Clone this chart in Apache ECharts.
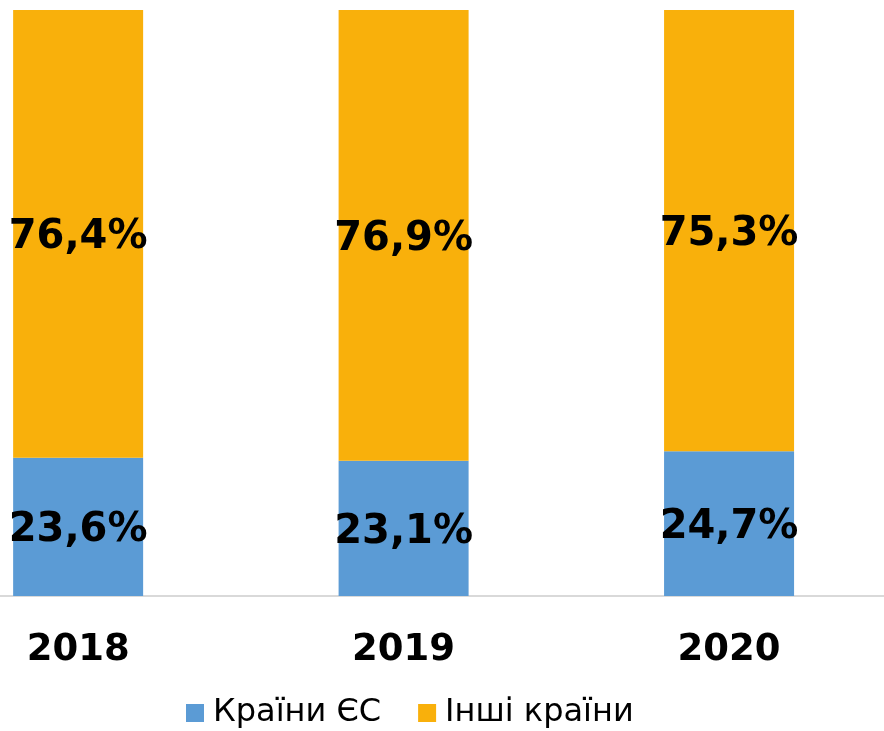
<!DOCTYPE html>
<html><head><meta charset="utf-8">
<script src="https://cdn.jsdelivr.net/npm/echarts@6/dist/echarts.min.js"></script>
<style>html,body{margin:0;padding:0;background:#fff}#c{width:884px;height:731px}</style>
</head><body><div id="c"></div>
<script>
const categories = ['2018', '2019', '2020'];
const euValues = [23.6, 23.1, 24.7];
const otherValues = [76.4, 76.9, 75.3];
const seriesNames = ['Країни ЄС', 'Інші країни'];

const chart = echarts.init(document.getElementById('c'));
const fmt = p => p.value.toFixed(1).replace('.', ',') + '%';
const lbl = {show: true, position: 'inside', offset: [0, 4], formatter: fmt, color: '#000', fontFamily: 'DejaVu Sans', fontWeight: 'bold', fontSize: 40};
chart.setOption({
  animation: false,
  grid: {left: -84.6, right: -7.8, top: 10, bottom: 135, containLabel: false, outerBoundsMode: 'none'},
  legend: {bottom: -3, left: 181, itemWidth: 18, itemHeight: 18, itemGap: 37, icon: 'rect',
    textStyle: {fontFamily: 'DejaVu Sans', fontSize: 32, color: '#000', padding: [0, 0, 0, 4]}, data: seriesNames},
  xAxis: {type: 'category', data: categories, axisTick: {show: false},
    axisLine: {lineStyle: {color: '#D9D9D9', width: 2}},
    axisLabel: {fontFamily: 'DejaVu Sans', fontWeight: 'bold', fontSize: 37, color: '#000', margin: 36}},
  yAxis: {type: 'value', min: 0, max: 100, show: false, splitLine: {show: false}},
  series: [
    {name: seriesNames[0], type: 'bar', stack: 'a', barWidth: 130, data: euValues, itemStyle: {color: '#5B9BD5'}, label: lbl},
    {name: seriesNames[1], type: 'bar', stack: 'a', barWidth: 130, data: otherValues, itemStyle: {color: '#F9B00B'}, label: lbl}
  ]
});
</script></body></html>
